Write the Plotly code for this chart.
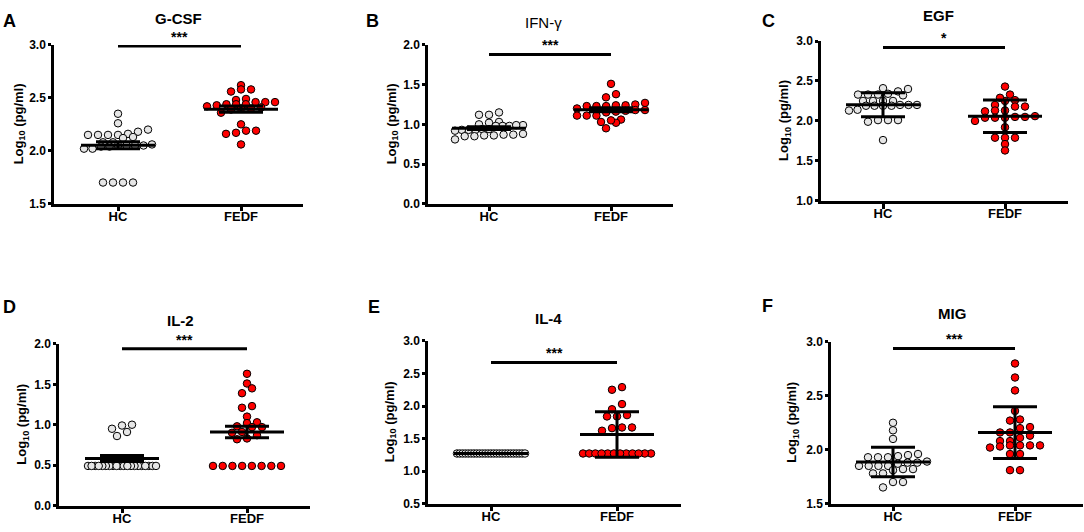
import numpy as np
import plotly.graph_objects as go

# ---------------- data (log10 pg/ml) ----------------
groups = ["HC", "FEDF"]
titles = ["G-CSF", "IFN-γ", "EGF", "IL-2", "IL-4", "MIG"]
letters = ["A", "B", "C", "D", "E", "F"]
stars = ["***", "***", "*", "***", "***", "***"]
err_kind = ["sem", "sem", "sd", "sem", "sd", "sd"]

gcsf_hc = [2.35, 2.26, 2.20, 2.18, 2.16, 2.15, 2.15, 2.15, 2.15, 2.13, 2.12, 2.08, 2.08,
           2.06, 2.05, 2.05, 2.05, 2.05, 2.04, 2.04, 2.02, 2.02, 1.70, 1.70, 1.70, 1.70]
gcsf_fedf = [2.62, 2.58, 2.56, 2.58, 2.43, 2.49, 2.46, 2.46, 2.46, 2.48, 2.44, 2.44, 2.44,
             2.42, 2.41, 2.40, 2.40, 2.39, 2.36, 2.25, 2.19, 2.17, 2.16, 2.19, 2.06]

ifng_hc = [1.15, 1.12, 1.12, 1.03, 1.00, 0.99, 0.98, 0.98, 0.98, 0.99, 1.02, 0.94, 0.93,
           0.93, 0.94, 0.93, 0.92, 0.88, 0.87, 0.86, 0.85, 0.85, 0.86, 0.87, 0.81]
ifng_fedf = [1.51, 1.38, 1.34, 1.27, 1.25, 1.24, 1.23, 1.23, 1.23, 1.24, 1.20, 1.18, 1.17,
             1.15, 1.18, 1.16, 1.11, 1.11, 1.11, 1.06, 1.03, 1.02, 1.05, 0.95]

egf_hc = [2.37, 2.41, 2.40, 2.33, 2.33, 2.32, 2.33, 2.34, 2.25, 2.25, 2.25, 2.25, 2.20,
          2.19, 2.19, 2.20, 2.19, 2.19, 2.20, 2.14, 2.13, 2.01, 2.01, 1.99, 2.01, 1.76]
egf_fedf = [2.43, 2.33, 2.26, 2.25, 2.29, 2.18, 2.18, 2.20, 2.13, 2.13, 2.12, 2.05, 2.04,
            2.04, 2.04, 2.05, 2.06, 2.00, 1.92, 1.79, 1.79, 1.79, 1.71, 1.63]

il2_hc = [0.99, 1.00, 0.91, 0.95, 0.86, 0.49, 0.49, 0.49, 0.49, 0.49, 0.49, 0.49, 0.49,
          0.49, 0.49, 0.49, 0.49, 0.49, 0.49, 0.49, 0.49, 0.49, 0.49, 0.49, 0.49]
il2_fedf = [1.63, 1.51, 1.45, 1.39, 1.23, 1.21, 1.10, 1.03, 1.02, 0.98, 0.97, 0.97, 0.91,
            0.90, 0.87, 0.83, 0.82, 0.49, 0.49, 0.49, 0.49, 0.49, 0.49, 0.49, 0.49]

il4_hc = [1.27, 1.27, 1.27, 1.27, 1.27, 1.27, 1.27, 1.27, 1.27, 1.27, 1.27, 1.27, 1.27,
          1.27, 1.27, 1.27, 1.27, 1.27, 1.27, 1.27, 1.27, 1.27, 1.27, 1.27, 1.27]
il4_fedf = [2.29, 2.25, 2.03, 1.95, 1.86, 1.84, 1.84, 1.67, 1.62, 1.66, 1.67, 1.27, 1.27,
            1.27, 1.27, 1.27, 1.27, 1.27, 1.27, 1.27, 1.27, 1.27, 1.27]

mig_hc = [2.25, 2.18, 2.10, 1.93, 1.94, 1.95, 1.96, 1.93, 1.93, 1.88, 1.89, 1.88, 1.87,
          1.85, 1.85, 1.85, 1.85, 1.82, 1.82, 1.81, 1.78, 1.78, 1.70, 1.70, 1.65]
mig_fedf = [2.80, 2.67, 2.55, 2.36, 2.28, 2.27, 2.21, 2.20, 2.16, 2.16, 2.13, 2.11, 2.08,
            2.08, 2.04, 2.03, 2.04, 2.02, 2.04, 2.04, 1.96, 1.96, 1.81, 1.81]

panel_data = [
    (gcsf_hc, gcsf_fedf),
    (ifng_hc, ifng_fedf),
    (egf_hc, egf_fedf),
    (il2_hc, il2_fedf),
    (il4_hc, il4_fedf),
    (mig_hc, mig_fedf),
]

y_ranges = [(1.5, 3.0), (0.0, 2.0), (1.0, 3.0), (0.0, 2.0), (0.5, 3.0), (1.5, 3.0)]
sig_y = [2.99, 1.88, 2.92, 1.94, 2.67, 2.94]

# ---------------- layout geometry (pixels) ----------------
W, H = 1084, 532
# left, right, top, bottom, hc_px, fedf_px
geom = [
    (54, 303, 39, 202, 118, 241),
    (428, 673, 39, 202, 489, 611),
    (821, 1068, 35, 199, 883, 1005),
    (59, 310, 346, 512, 122, 247),
    (428, 681, 343, 510, 491, 617),
    (831, 1083, 344, 510, 893, 1015),
]
title_pos = [(178, 12), (543, 16), (938, 9), (180, 322), (548, 320), (952, 315)]
letter_pos = [(9, 14), (372, 14), (768, 14), (9, 308), (374, 308), (767, 307)]
ylab_x = [19, 392, 785, 23, 390, 793]

FONT = "Arial, Liberation Sans, sans-serif"
DIAM = 7.5
STEP = 10.0
MAXW = 68.0
MEAN_W = 74.0   # px, full width of mean line
CAP_HW = 22     # px, half width of error caps


def swarm(vals, ypp, xpp):
    """x offsets (data units) for a GraphPad-like column scatter."""
    v = np.asarray(vals, float)
    order = np.argsort(v)
    offs = np.zeros(len(v))
    rows, cur = [], [order[0]]
    for idx in order[1:]:
        if (v[idx] - v[cur[0]]) / ypp < DIAM * 0.85:
            cur.append(idx)
        else:
            rows.append(cur)
            cur = [idx]
    rows.append(cur)
    for r in rows:
        n = len(r)
        s = STEP if (n - 1) * STEP <= MAXW else MAXW / (n - 1)
        pos = (np.arange(n) - (n - 1) / 2.0) * s
        for k, idx in enumerate(r):
            offs[idx] = pos[k] * xpp
    return offs


fig = go.Figure()
annotations = []

for p in range(6):
    left, right, top, bottom, hcx, fdx = geom[p]
    ymin, ymax = y_ranges[p]
    unit = fdx - hcx
    xr = [-(hcx - left) / unit, 1 + (right - fdx) / unit]
    xpp = 1.0 / unit
    ypp = (ymax - ymin) / (bottom - top)
    sfx = "" if p == 0 else str(p + 1)
    xa, ya = "x" + sfx, "y" + sfx

    hc, fedf = panel_data[p]
    for gi, (vals, fill) in enumerate([(hc, "#e6e6e6"), (fedf, "#ff0000")]):
        offs = swarm(vals, ypp, xpp)
        fig.add_trace(go.Scatter(
            x=gi + offs, y=vals, mode="markers", xaxis=xa, yaxis=ya,
            marker=dict(size=DIAM, color=fill, line=dict(color="black", width=1)),
            showlegend=False, hoverinfo="y", name=groups[gi]))

    means, errs = [], []
    for vals in (hc, fedf):
        a = np.asarray(vals, float)
        sd = a.std(ddof=1)
        means.append(a.mean())
        errs.append(sd if err_kind[p] == "sd" else sd / np.sqrt(len(a)))

    fig.add_trace(go.Scatter(
        x=[0, 1], y=means, mode="markers", xaxis=xa, yaxis=ya,
        marker=dict(symbol="line-ew", size=MEAN_W / 1.4, color="black",
                    line=dict(color="black", width=3)),
        error_y=dict(type="data", array=errs, visible=True, width=CAP_HW,
                     thickness=3, color="black"),
        showlegend=False, hoverinfo="y"))

    # significance bar
    fig.add_trace(go.Scatter(
        x=[0, 1], y=[sig_y[p], sig_y[p]], mode="lines", xaxis=xa, yaxis=ya,
        line=dict(color="black", width=3), showlegend=False, hoverinfo="skip"))
    annotations.append(dict(
        x=0.5, y=sig_y[p], xref=xa, yref=ya, text="<b>" + stars[p] + "</b>",
        showarrow=False, yanchor="bottom", yshift=-1,
        font=dict(family=FONT, size=14, color="black")))

    axis_common = dict(showline=True, linewidth=2.5, linecolor="black",
                       ticks="outside", tickcolor="black", tickwidth=2.5,
                       showgrid=False, zeroline=False, mirror=False)
    fig.layout["xaxis" + sfx] = dict(
        axis_common, domain=[left / W, right / W], range=xr,
        anchor=ya, tickvals=[0, 1], ticktext=groups, ticklen=5,
        ticklabelstandoff=-6,
        tickfont=dict(family=FONT, size=13, color="black", weight="bold"))
    fig.layout["yaxis" + sfx] = dict(
        axis_common, domain=[1 - bottom / H, 1 - top / H], range=[ymin, ymax],
        anchor=xa, dtick=0.5, tick0=0, tickformat=".1f", ticklen=3,
        ticklabelstandoff=0,
        tickfont=dict(family=FONT, size=12, color="black", weight="bold"))

    tx, ty = title_pos[p]
    ttxt = titles[p] if titles[p] == "IFN-γ" else "<b>" + titles[p] + "</b>"
    annotations.append(dict(
        x=tx / W, y=1 - ty / H, xref="paper", yref="paper", text=ttxt,
        showarrow=False, xanchor="center", yanchor="middle",
        font=dict(family=FONT, size=15, color="black")))
    lx, ly = letter_pos[p]
    annotations.append(dict(
        x=lx / W, y=1 - ly / H, xref="paper", yref="paper",
        text="<b>" + letters[p] + "</b>", showarrow=False,
        xanchor="center", yanchor="middle",
        font=dict(family=FONT, size=18, color="black")))
    annotations.append(dict(
        x=ylab_x[p] / W, y=1 - (top + bottom) / 2 / H, xref="paper", yref="paper",
        text="<b>Log<sub>10</sub> (pg/ml)</b>", textangle=-90, showarrow=False,
        xanchor="center", yanchor="middle",
        font=dict(family=FONT, size=13, color="black")))

fig.update_layout(
    width=W, height=H, margin=dict(l=0, r=0, t=0, b=0),
    paper_bgcolor="white", plot_bgcolor="white",
    annotations=annotations, showlegend=False,
    font=dict(family=FONT, color="black"))

fig.write_html("out.html", config={"displayModeBar": False},
               post_script="document.body.style.margin='0';"
                           "document.body.style.overflow='hidden';")
